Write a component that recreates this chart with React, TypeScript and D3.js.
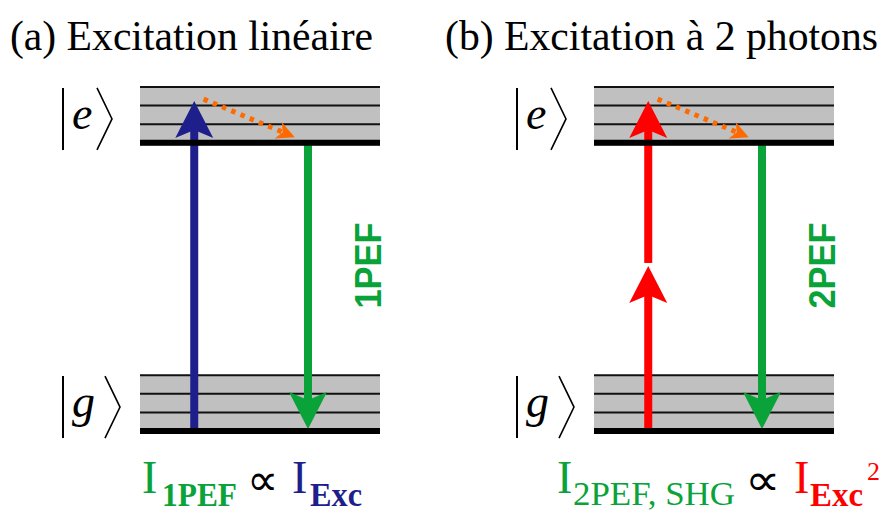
import * as d3 from 'd3';

// energy levels (in units of the vibrational spacing)
const subLevels = [0, 1, 2, 3];
const excitedOffset = 15.5;
const absorbedEnergy = 17.75;
const relaxStart = 17.85;
const relaxEnd = 15.8;

const panels = ['a', 'b'];
const panelTitles = ['(a) Excitation linéaire', '(b) Excitation à 2 photons'];
const photonCounts = [1, 2];
const excColors = ['#1f1f8c', '#ff0000'];
const emissionLabels = ['1PEF', '2PEF'];
const kets = [
    { label: 'e', base: excitedOffset },
    { label: 'g', base: 0 },
];

const GREEN = '#0aa33a';
const ORANGE = '#ff6a00';

const W = 880;
const H = 513;

const yScale = d3.scaleLinear().domain([0, 18.5]).range([431, 87]);
const panelScale = d3.scaleBand<string>().domain(panels).range([140, 1048]);
const BOX_W = 240;

const serif = "'Liberation Serif', 'Times New Roman', Times, serif";
const sans = "'Liberation Sans', Arial, sans-serif";

function head(x: number, tip: number, dir: 1 | -1, len = 37, half = 19, notch = 8) {
    // dir = -1 : pointing up, dir = 1 : pointing down
    const p = d3.path();
    p.moveTo(x, tip);
    p.lineTo(x - half, tip - dir * len);
    p.lineTo(x, tip - dir * (len - notch));
    p.lineTo(x + half, tip - dir * len);
    p.closePath();
    return p.toString();
}

function Panel({ id, i }: { id: string; i: number }) {
    const x0 = panelScale(id) ?? 0;
    const x = d3.scaleLinear().domain([0, 1]).range([x0, x0 + BOX_W]);
    const manifolds = [0, excitedOffset];
    const n = photonCounts[i];
    const step = absorbedEnergy / n;
    const xa = x(0.226);
    const xe = x(0.7);

    const rx0 = x(0.265);
    const ry0 = yScale(relaxStart);
    const rx1 = x(0.645);
    const ry1 = yScale(relaxEnd);
    const ang = Math.atan2(ry1 - ry0, rx1 - rx0);
    const hl = 18;

    return (
        <g>
            {manifolds.map((m) => (
                <g key={m}>
                    <rect
                        x={x(0)}
                        y={yScale(m + 3)}
                        width={BOX_W}
                        height={yScale(m) - yScale(m + 3) + 3}
                        fill="#c0c0c0"
                    />
                    {subLevels.slice(1).map((s) => (
                        <line
                            key={s}
                            x1={x(0)}
                            x2={x(1)}
                            y1={yScale(m + s)}
                            y2={yScale(m + s)}
                            stroke="#111"
                            strokeWidth={2}
                        />
                    ))}
                </g>
            ))}

            {/* excitation photons */}
            {d3.range(n).map((k) => {
                const from = yScale(k * step) - (k > 0 ? 3 : 0);
                const tip = yScale((k + 1) * step);
                return (
                    <g key={k} fill={excColors[i]}>
                        <rect x={xa - 4} width={8} y={tip + 25} height={from - tip - 25} />
                        <path d={head(xa, tip, -1)} />
                    </g>
                );
            })}

            {/* emission */}
            <g fill={GREEN}>
                <rect x={xe - 4} width={8} y={yScale(excitedOffset)} height={yScale(0) - 30 - yScale(excitedOffset)} />
                <path d={head(xe, yScale(0) - 2, 1)} />
            </g>
            <text
                transform={`translate(${xe + 73}, ${yScale(8.9)}) rotate(-90)`}
                textAnchor="middle"
                fontFamily={sans}
                fontWeight="bold"
                fontSize={36}
                textLength={86}
                lengthAdjust="spacingAndGlyphs"
                fill={GREEN}
            >
                {emissionLabels[i]}
            </text>

            {/* vibrational relaxation */}
            <line
                x1={rx0}
                y1={ry0}
                x2={rx1 - Math.cos(ang) * hl * 0.6}
                y2={ry1 - Math.sin(ang) * hl * 0.6}
                stroke={ORANGE}
                strokeWidth={5}
                strokeDasharray="4.5 5.5"
            />
            <path
                transform={`translate(${rx1}, ${ry1}) rotate(${(ang * 180) / Math.PI + 90})`}
                d={head(0, 0, -1, hl, 9, 5)}
                fill={ORANGE}
            />

            {/* thick bottom of each manifold */}
            {manifolds.map((m) => (
                <line
                    key={m}
                    x1={x(0)}
                    x2={x(1)}
                    y1={yScale(m)}
                    y2={yScale(m)}
                    stroke="#000"
                    strokeWidth={6}
                />
            ))}

            {/* kets */}
            {kets.map((k) => {
                const cy = yScale(k.base + 1.5) + 4;
                const kx = x0 - 77;
                const bw = k.label === 'e' ? 49 : 57;
                return (
                    <g key={k.label}>
                        <line x1={kx} x2={kx} y1={cy - 31} y2={cy + 31} stroke="#000" strokeWidth={2} />
                        <text x={kx + 9} y={cy + 10} fontFamily={serif} fontStyle="italic" fontSize={46}>
                            {k.label}
                        </text>
                        <path
                            d={`M${kx + bw - 15},${cy - 31}L${kx + bw},${cy}L${kx + bw - 15},${cy + 31}`}
                            fill="none"
                            stroke="#000"
                            strokeWidth={1.6}
                        />
                    </g>
                );
            })}
        </g>
    );
}

export default function App() {
    return (
        <svg
            width={W}
            height={H}
            viewBox={`0 0 ${W} ${H}`}
            style={{ position: 'absolute', left: 0, top: 0, background: '#fff' }}
        >
            <g style={{ fontFamily: serif }}>
                <text x={10} y={50} fontSize={42} textLength={363} lengthAdjust="spacingAndGlyphs">
                    {panelTitles[0]}
                </text>
                <text x={445} y={50} fontSize={42} textLength={433} lengthAdjust="spacingAndGlyphs">
                    {panelTitles[1]}
                </text>
            </g>

            {panels.map((p, i) => (
                <Panel key={p} id={p} i={i} />
            ))}

            {/* intensity relations */}
            <g style={{ fontFamily: serif }}>
                <text x={142} y={493} fontSize={46} fill={GREEN}>I</text>
                <text x={162} y={506} fontSize={33} fontWeight="bold" fill={GREEN} textLength={75} lengthAdjust="spacingAndGlyphs">1PEF</text>
                <text x={247} y={495} fontSize={44} fill="#000" textLength={31} lengthAdjust="spacingAndGlyphs">∝</text>
                <text x={292} y={493} fontSize={46} fill={excColors[0]}>I</text>
                <text x={310} y={506} fontSize={33} fontWeight="bold" fill={excColors[0]} textLength={52} lengthAdjust="spacingAndGlyphs">Exc</text>

                <text x={557} y={493} fontSize={46} fill={GREEN}>I</text>
                <text x={573} y={505} fontSize={34} fill={GREEN} textLength={162} lengthAdjust="spacingAndGlyphs">2PEF, SHG</text>
                <text x={745} y={495} fontSize={44} fill="#000" textLength={35} lengthAdjust="spacingAndGlyphs">∝</text>
                <text x={794} y={493} fontSize={46} fill={excColors[1]}>I</text>
                <text x={810} y={506} fontSize={33} fontWeight="bold" fill={excColors[1]} textLength={53} lengthAdjust="spacingAndGlyphs">Exc</text>
                <text x={867} y={480} fontSize={26} fill={excColors[1]}>2</text>
            </g>
        </svg>
    );
}
